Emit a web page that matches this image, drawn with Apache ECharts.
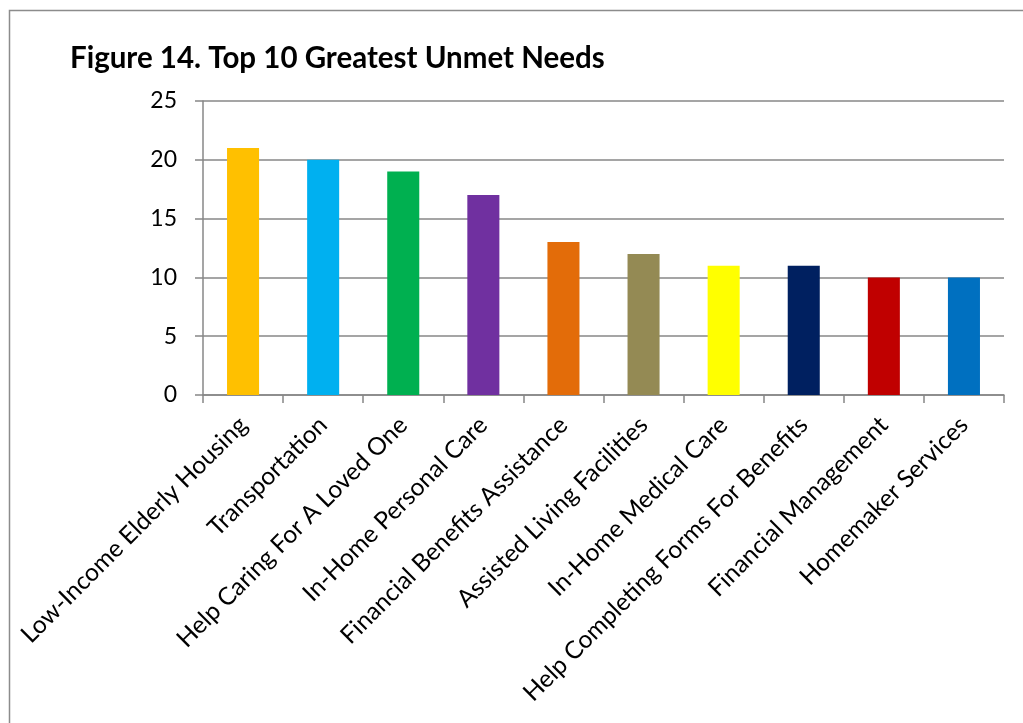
<!DOCTYPE html>
<html>
<head>
<meta charset="utf-8">
<title>Figure 14. Top 10 Greatest Unmet Needs</title>
<script src="https://cdn.jsdelivr.net/npm/echarts@6/dist/echarts.min.js"></script>
<style>
  html, body { margin: 0; padding: 0; background: #fff; }
  #chart { width: 1023px; height: 723px; }
</style>
</head>
<body>
<div id="chart"></div>
<script>
// Survey responses: greatest unmet needs, top ten
const categories = [
  'Low-Income Elderly Housing',
  'Transportation',
  'Help Caring For A Loved One',
  'In-Home Personal Care',
  'Financial Benefits Assistance',
  'Assisted Living Facilities',
  'In-Home Medical Care',
  'Help Completing Forms For Benefits',
  'Financial Management',
  'Homemaker Services'
];
const values = [21, 20, 19, 17, 13, 12, 11, 11, 10, 10];
const barColors = [
  '#FFC000', '#00B0F0', '#00B050', '#7030A0', '#E36C09',
  '#948A54', '#FFFF00', '#002060', '#C00000', '#0070C0'
];
const yTicks = [0, 5, 10, 15, 20, 25];

const FONT = 'Lato, "Open Sans", sans-serif';
const chart = echarts.init(document.getElementById('chart'), null, { renderer: 'canvas' });

chart.setOption({
  animation: false,
  backgroundColor: '#ffffff',
  graphic: [{
    type: 'rect',
    left: 7, top: 8,
    shape: { width: 1040, height: 740 },
    style: { fill: 'none', stroke: '#8c8c8c', lineWidth: 1.5 },
    silent: true,
    z: -1
  }],
  title: {
    text: 'Figure 14. Top 10 Greatest Unmet Needs',
    left: 65, top: 38,
    textStyle: { fontFamily: FONT, fontWeight: 'bold', fontSize: 29.5, color: '#000' }
  },
  grid: { left: 203, right: 19, top: 101, bottom: 328, containLabel: false },
  xAxis: {
    type: 'category',
    data: categories,
    boundaryGap: true,
    axisLine: { show: true, lineStyle: { color: '#878787', width: 1.5 } },
    axisTick: { show: true, length: 8, alignWithLabel: false, lineStyle: { color: '#878787', width: 1.5 } },
    axisLabel: {
      interval: 0, rotate: 45, margin: 26,
      fontFamily: FONT, fontSize: 24.5, color: '#000'
    },
    splitLine: { show: false }
  },
  yAxis: {
    type: 'value',
    min: yTicks[0], max: yTicks[yTicks.length - 1], interval: 5,
    axisLine: { show: true, lineStyle: { color: '#878787', width: 1.5 } },
    axisTick: { show: true, length: 8, lineStyle: { color: '#878787', width: 1.5 } },
    axisLabel: { margin: 26, fontFamily: FONT, fontSize: 23, color: '#000' },
    splitLine: { show: true, lineStyle: { color: '#878787', width: 1.5 } }
  },
  series: [{
    type: 'bar',
    barWidth: '40%',
    data: values.map((v, i) => ({ value: v, itemStyle: { color: barColors[i] } }))
  }]
});
</script>
</body>
</html>
